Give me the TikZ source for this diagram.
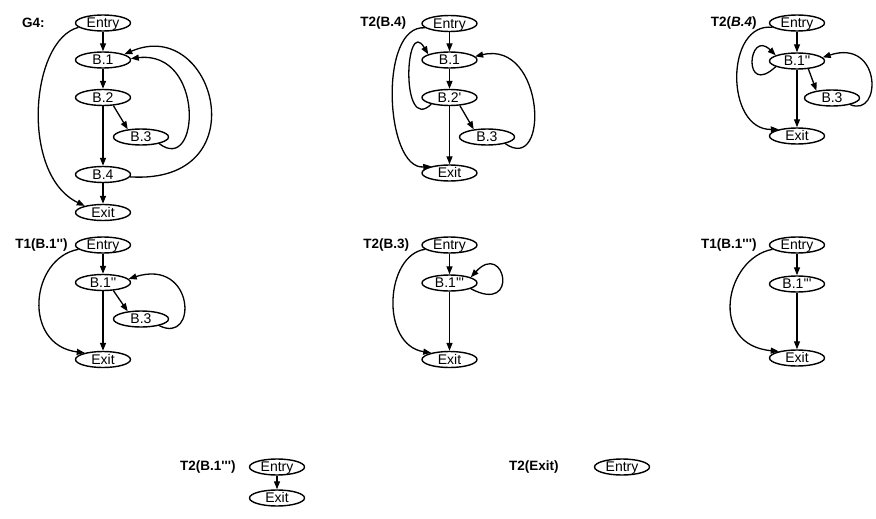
\documentclass[tikz,border=0pt]{standalone}
\usepackage{fontspec}
\setmainfont{Liberation Sans}[Ligatures=TeXOff]
\usetikzlibrary{arrows.meta,shapes.geometric}
\begin{document}
\begin{tikzpicture}[x=1pt,y=-1pt,
  blk/.style={ellipse, draw, line width=1.4pt, minimum width=55pt, minimum height=16pt,
    inner sep=0pt, text height=9.5pt, text depth=0pt, font=\fontsize{14}{14}\selectfont},
  lbl/.style={anchor=east, inner sep=0pt, font=\fontsize{13.5}{14}\selectfont\bfseries},
  arr/.style={line width=1.3pt, -{Triangle[length=8pt,width=6pt]}},
]
\useasboundingbox (0,0) rectangle (876,519);

% ---- G4
\node[blk] (a0) at (103,23) {Entry};
\node[blk] (a1) at (103,60) {B.1};
\node[blk] (a2) at (103,97.5) {B.2};
\node[blk] (a3) at (141,137) {B.3};
\node[blk] (a4) at (103,174.5) {B.4};
\node[blk] (a5) at (103,212.5) {Exit};
\node[lbl] (la) at ([xshift=-30pt]a0.west) {G4:};
\draw[arr] (a0) -- (a1);
\draw[arr] (a1) -- (a2);
\draw[arr] (a2.-38) -- (a3.150);
\draw[arr] (a2) -- (a4);
\draw[arr] (a4) -- (a5);
\draw[arr] (a0.190) .. controls (30,40) and (20,175) .. (a5.160);
\draw[arr] (a3.-20) .. controls (200,175) and (205,50) .. (a1.3);
\draw[arr] (a4.-5) .. controls (260,185) and (215,15) .. (a1.15);

% ---- T2(B.4)
\node[blk] (b0) at (449.5,23.5) {Entry};
\node[blk] (b1) at (449.5,60) {B.1};
\node[blk] (b2) at (449.5,97.5) {B.2'};
\node[blk] (b3) at (487,137) {B.3};
\node[blk] (b4) at (449.5,173) {Exit};
\node[lbl] (lb) at ([xshift=-15pt]b0.west) {T2(B.4)};
\draw[arr] (b0) -- (b1);
\draw[arr] (b1) -- (b2);
\draw[arr] (b2.-38) -- (b3.150);
\draw[arr] (b2) -- (b4);
\draw[arr] (b0.190) .. controls (378,24) and (385,170) .. (b4.160);
\draw[arr] (b2.200) .. controls (400,135) and (405,15) .. (b1.165);
\draw[arr] (b3.-20) .. controls (550,175) and (545,40) .. (b1.8);

% ---- T2(B.4), second step
\node[blk] (c0) at (797,23) {Entry};
\node[blk] (c1) at (797,61) {B.1''};
\node[blk] (c2) at (832,98) {B.3};
\node[blk] (c3) at (797,136) {Exit};
\node[lbl] (lc) at ([xshift=-12pt]c0.west) {T2(\textit{B.4})};
\draw[arr] (c0) -- (c1);
\draw[arr] (c1) -- (c3);
\draw[arr] (c1.-35) -- (c2.155);
\draw[arr] (c0.190) .. controls (725,22) and (725,130) .. (c3.160);
\draw[arr] (c1.195) .. controls (742,98) and (748,28) .. (c1.165);
\draw[arr] (c2.-20) .. controls (882,118) and (882,38) .. (c1.8);

% ---- T1(B.1'')
\node[blk] (d0) at (103,245) {Entry};
\node[blk] (d1) at (103,282.5) {B.1''};
\node[blk] (d2) at (141,319) {B.3};
\node[blk] (d3) at (103,359.5) {Exit};
\node[lbl] (ld) at ([xshift=-7pt]d0.west) {T1(B.1'')};
\draw[arr] (d0) -- (d1);
\draw[arr] (d1) -- (d3);
\draw[arr] (d1.-38) -- (d2.150);
\draw[arr] (d0.190) .. controls (30,258) and (22,345) .. (d3.160);
\draw[arr] (d2.-20) .. controls (198,345) and (195,258) .. (d1.8);

% ---- T2(B.3)
\node[blk] (e0) at (449.5,245) {Entry};
\node[blk] (e1) at (449.5,283) {B.1'''};
\node[blk] (e2) at (449.5,359.5) {Exit};
\node[lbl] (le) at ([xshift=-12pt]e0.west) {T2(B.3)};
\draw[arr] (e0) -- (e1);
\draw[arr] (e1) -- (e2);
\draw[arr] (e0.190) .. controls (385,255) and (380,345) .. (e2.160);
\draw[arr] (e1.-15) .. controls (520,315) and (505,240) .. (e1.15);

% ---- T1(B.1''')
\node[blk] (f0) at (797,245) {Entry};
\node[blk] (f1) at (797,284) {B.1'''};
\node[blk] (f2) at (797,358) {Exit};
\node[lbl] (lf) at ([xshift=-12pt]f0.west) {T1(B.1''')};
\draw[arr] (f0) -- (f1);
\draw[arr] (f1) -- (f2);
\draw[arr] (f0.190) .. controls (725,258) and (708,345) .. (f2.160);

% ---- T2(B.1''')
\node[blk] (g0) at (277,467) {Entry};
\node[blk] (g1) at (277,498) {Exit};
\node[lbl] (lg) at ([xshift=-13pt]g0.west) {T2(B.1''')};
\draw[arr] (g0) -- (g1);

% ---- T2(Exit)
\node[blk] (h0) at (622,467) {Entry};
\node[lbl] (lh) at ([xshift=-35pt]h0.west) {T2(Exit)};
\end{tikzpicture}
\end{document}
